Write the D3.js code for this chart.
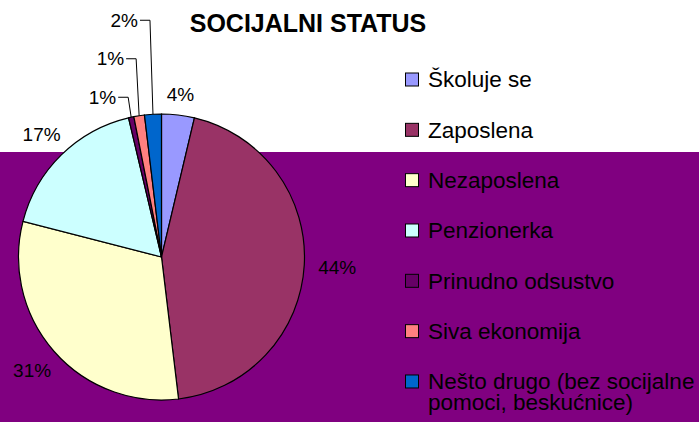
<!DOCTYPE html>
<html>
<head>
<meta charset="utf-8">
<script src="https://cdn.jsdelivr.net/npm/d3@7"></script>
<style>
  html, body { margin: 0; padding: 0; background: #fff; }
  text { font-family: "Liberation Sans", Arial, sans-serif; fill: #000; }
</style>
</head>
<body>
<div id="chart"></div>
<script>
// Data
const categories = ["Školuje se", "Zaposlena", "Nezaposlena", "Penzionerka",
    "Prinudno odsustvo", "Siva ekonomija", "Nešto drugo (bez socijalne pomoci, beskućnice)"];
const values = [3.7, 44.4, 30.9, 17.3, 0.6, 1.2, 1.9];
const colors = ["#9999FF", "#993366", "#FFFFCC", "#CCFFFF", "#660066", "#FF8080", "#0066CC"];
const title = "SOCIJALNI STATUS";

// Dimensions
const width = 699, height = 422;
const cx = 161.5, cy = 257, radius = 143;

const svg = d3.select("#chart")
    .append("svg")
    .attr("width", width)
    .attr("height", height);

// plot area background
svg.append("rect")
    .attr("x", 0).attr("y", 152)
    .attr("width", width).attr("height", height - 152)
    .attr("fill", "#800080");

svg.append("text")
    .attr("x", 308).attr("y", 32)
    .attr("text-anchor", "middle")
    .style("font-size", "25px")
    .style("font-weight", "bold")
    .text(title);

const data = categories.map((c, i) => ({name: c, value: values[i], color: colors[i]}));
const total = d3.sum(values);

const pie = d3.pie().sort(null).value(d => d.value);
const arcs = pie(data);
const arc = d3.arc().innerRadius(0).outerRadius(radius);

const g = svg.append("g").attr("transform", "translate(" + cx + "," + cy + ")");

g.selectAll("path")
    .data(arcs)
    .join("path")
    .attr("d", arc)
    .attr("fill", d => d.data.color)
    .attr("stroke", "#000")
    .attr("stroke-width", 1.2);

// Labels
const fmt = v => Math.round(v / total * 100) + "%";
const edgeArc = d3.arc().innerRadius(radius).outerRadius(radius);

// small slices get leader lines: how far above the edge the label sits
const leaderRise = {4: 20, 5: 57, 6: 94};

arcs.forEach((d, i) => {
    if (leaderRise[i] === undefined) {
        const t = g.append("text")
            .attr("text-anchor", "middle")
            .attr("dy", "0.35em")
            .style("font-size", "19px")
            .text(fmt(d.value));
        // place label box just outside the pie along the slice's mid angle
        const a = (d.startAngle + d.endAngle) / 2;
        const w = t.node().getComputedTextLength() / 2, h = 7;
        const r = radius + 14 + Math.hypot(w * Math.sin(a), h * Math.cos(a));
        t.attr("x", r * Math.sin(a)).attr("y", -r * Math.cos(a));
    } else {
        const [ex, ey] = edgeArc.centroid(d);
        const ly = ey - leaderRise[i];
        const elbowX = ex - 3;
        g.append("polyline")
            .attr("points", [[ex, ey], [elbowX, ly], [elbowX - 10, ly]].map(p => p.join(",")).join(" "))
            .attr("fill", "none")
            .attr("stroke", "#000")
            .attr("stroke-width", 1);
        g.append("text")
            .attr("x", elbowX - 12).attr("y", ly)
            .attr("dy", "0.35em")
            .attr("text-anchor", "end")
            .style("font-size", "19px")
            .text(fmt(d.value));
    }
});

// Legend
const legend = svg.append("g").attr("transform", "translate(405,79.5)");
const rowStep = 50.33;

data.forEach((d, i) => {
    const row = legend.append("g").attr("transform", "translate(0," + (i * rowStep) + ")");
    row.append("rect")
        .attr("x", 0.5).attr("y", -6.5)
        .attr("width", 13).attr("height", 13)
        .attr("fill", d.color)
        .attr("stroke", "#000")
        .attr("stroke-width", 1);
    const t = row.append("text")
        .attr("x", 23).attr("y", 0)
        .style("font-size", "22.5px");
    // simple word wrap
    const words = d.name.split(" ");
    let line = [];
    let tspan = t.append("tspan").attr("x", 23).attr("dy", "0.35em");
    words.forEach(w => {
        line.push(w);
        tspan.text(line.join(" "));
        if (tspan.node().getComputedTextLength() > 280 && line.length > 1) {
            line.pop();
            tspan.text(line.join(" "));
            line = [w];
            tspan = t.append("tspan").attr("x", 23).attr("dy", 20.5).text(w);
        }
    });
});
</script>
</body>
</html>
